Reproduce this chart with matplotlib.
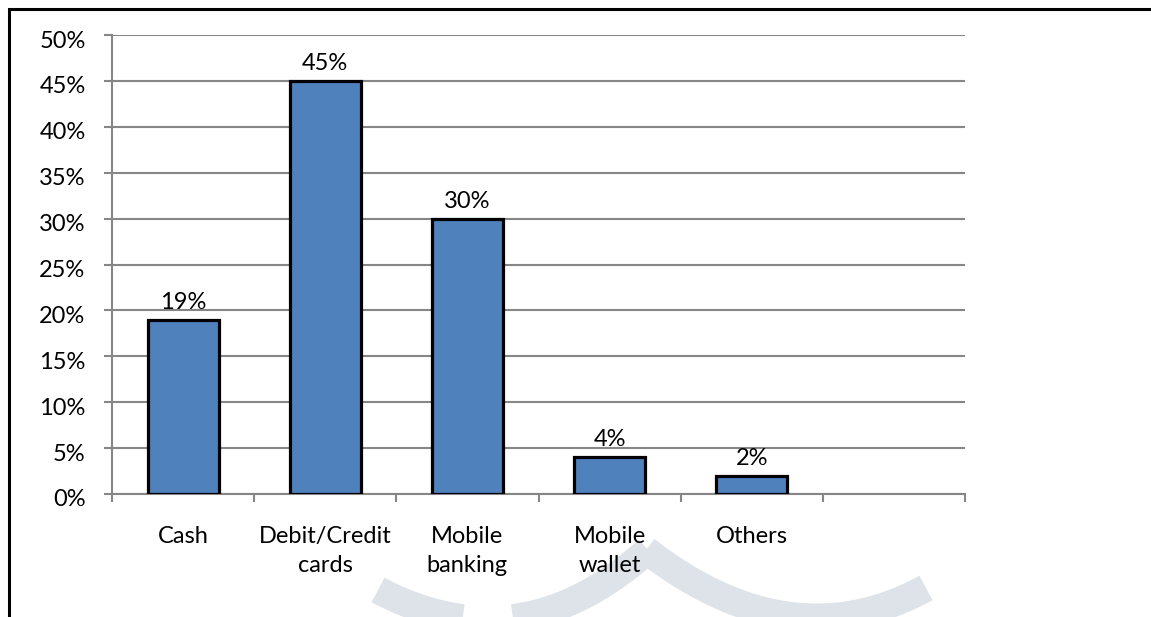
import numpy as np
import matplotlib
matplotlib.use("Agg")
import matplotlib.pyplot as plt
import matplotlib.transforms as mtrans
from matplotlib.lines import Line2D

plt.rcParams['font.family'] = ['Lato', 'DejaVu Sans']

# data
categories = ["Cash", "Debit/Credit\ncards", "Mobile\nbanking", "Mobile\nwallet", "Others", ""]
shares = [19, 45, 30, 4, 2, None]
yticks = [0, 5, 10, 15, 20, 25, 30, 35, 40, 45, 50]

W, H = 1151, 617
fig = plt.figure(figsize=(W / 100, H / 100), dpi=100)

def px(x, y):
	return np.asarray(x) / W, 1 - np.asarray(y) / H

# faint watermark behind the chart (two curved bands)
wm = "#dde3e8"
t = np.linspace(0, 1, 100)[:, None]
for p0, p1, p2 in [((378, 590), (520, 665), (648, 550)),
				   ((646, 550), (790, 662), (926, 588))]:
	p0, p1, p2 = map(np.array, (p0, p1, p2))
	pts = (1 - t) ** 2 * p0 + 2 * (1 - t) * t * p1 + t ** 2 * p2
	fx, fy = px(pts[:, 0], pts[:, 1])
	fig.add_artist(Line2D(fx, fy, transform=fig.transFigure, color=wm, lw=20,
		solid_capstyle="butt", zorder=0))

# border of the chart frame
bx0, by0 = px(9, 9)
fig.add_artist(Line2D([bx0, bx0, 1.0], [0.0, by0, by0], transform=fig.transFigure,
	color="black", lw=2.2, solid_joinstyle="miter", zorder=1))

ax = fig.add_axes([112 / W, 1 - 494 / H, 853 / W, 459 / H])
ax.patch.set_alpha(0)

grid = "#868686"
x = np.arange(len(categories))
bx = [xi for xi, v in zip(x, shares) if v is not None]
bv = [v for v in shares if v is not None]
ax.bar(bx, bv, width=0.5, color="#4f81bd", edgecolor="black", linewidth=2.3, zorder=3)

for xi, v in zip(bx, bv):
	ax.annotate(f"{v}%", (xi, v), xytext=(0, 5), textcoords="offset points",
		ha="center", va="bottom", fontsize=17, color="black")

ax.set_xlim(-0.5, len(categories) - 0.5)
ax.set_ylim(0, 50)
ax.set_yticks(yticks)
ax.set_yticklabels([f"{t}%" for t in yticks])
ax.set_xticks(x)
ax.set_xticklabels(categories, linespacing=1.45)
ax.set_xticks(np.arange(-0.5, len(categories), 1), minor=True)

ax.yaxis.grid(True, color=grid, lw=1.5, zorder=0)
ax.set_axisbelow(True)

for s in ("top", "right"):
	ax.spines[s].set_visible(False)
for s in ("left", "bottom"):
	ax.spines[s].set_color(grid)
	ax.spines[s].set_linewidth(1.5)

ax.tick_params(axis="y", length=6, width=1.5, color=grid, pad=13, labelsize=17)
ax.tick_params(axis="x", which="major", length=0, pad=23, labelsize=17)
ax.tick_params(axis="x", which="minor", length=6, width=1.5, color=grid)

# value labels sit a little below their gridlines, as in the original
shift = mtrans.ScaledTranslation(0, -4 / 100, fig.dpi_scale_trans)
for lab in ax.get_yticklabels():
	lab.set_transform(lab.get_transform() + shift)

fig.savefig("out.png", dpi=100)
